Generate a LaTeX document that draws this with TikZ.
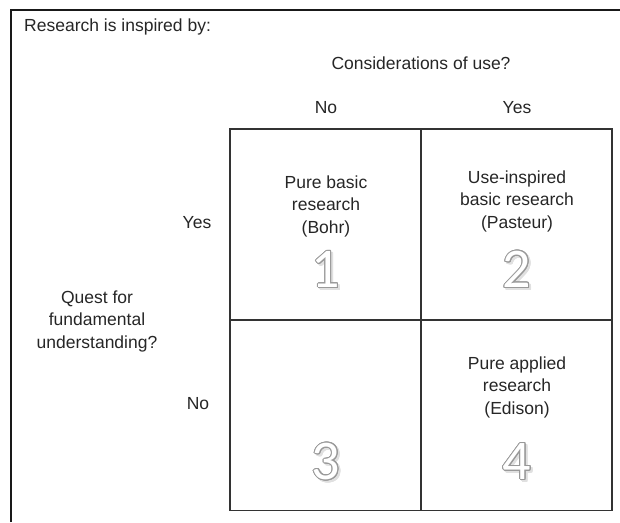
\documentclass[tikz,border=0pt]{standalone}
\usepackage{fontspec}
\setmainfont{Liberation Sans}
\newfontfamily\digitfont{Carlito}
\usepackage[copies]{contour}
\contourlength{1.0pt}
\contournumber{16}
\begin{document}
\begin{tikzpicture}[x=1pt,y=-1pt,
  lbl/.style={font=\fontsize{17.5}{22.5}\selectfont, align=center, inner sep=0pt, text=black!85},
  cell/.style={draw=black!80, line width=1.3pt, minimum width=191pt, minimum height=191pt, inner sep=0pt},
  numeral/.style={font=\digitfont\fontsize{56}{56}\selectfont, inner sep=0pt},
  shade/.style={font=\digitfont\fontsize{56}{56}\selectfont, inner sep=0pt, text=black!12}]
\useasboundingbox (0,0) rectangle (620,522);

% outer frame (open towards the right and bottom)
\coordinate (fb) at (11,522);
\coordinate (fc) at (11,10);
\coordinate (fr) at (620,10);
\draw[line width=1.6pt, black!90] (fb) -- (fc) -- (fr);

% title and axis labels
\node[lbl, anchor=west] (title) at (24,27) {Research is inspired by:};
\node[lbl] (use) at (421,63) {Considerations of use?};
\node[lbl] (useno) at (326,108) {No};
\node[lbl] (useyes) at (517,108) {Yes};
\node[lbl] (quest) at (97,321) {Quest for\\fundamental\\understanding?};
\node[lbl] (qyes) at (197,223) {Yes};
\node[lbl] (qno) at (198,404) {No};

% the four quadrants
\node[cell] (c1) at (325.5,224.5) {};
\node[cell] (c2) at (516.5,224.5) {};
\node[cell] (c3) at (325.5,415) {};
\node[cell] (c4) at (516.5,415) {};

% quadrant descriptions
\node[lbl] (t1) at (326,206) {Pure basic\\research\\(Bohr)};
\node[lbl] (t2) at (517,201) {Use-inspired\\basic research\\(Pasteur)};
\node[lbl] (t4) at (517,387) {Pure applied\\research\\(Edison)};

% hollow numerals with a soft drop shadow
\foreach \n/\x/\y in {1/326/270, 2/517/270, 3/326/462, 4/517/462} {
  \node[shade] at (\x+2,\y+2) {\contour{black!12}{\n}};
  \node[numeral] (n\n) at (\x,\y) {\contour{black!40}{\textcolor{white}{\n}}};
}
\end{tikzpicture}
\end{document}
